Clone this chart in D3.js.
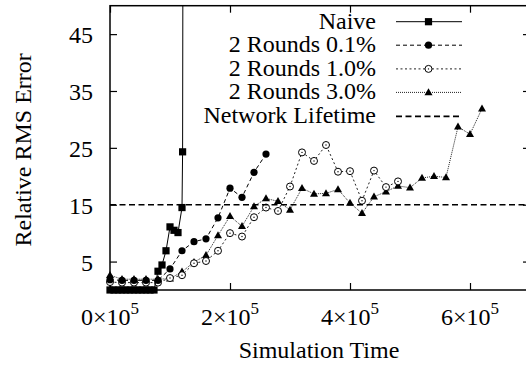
<!DOCTYPE html>
<html><head><meta charset="utf-8">
<script src="https://cdn.jsdelivr.net/npm/d3@7/dist/d3.min.js"></script>
<style>
body{margin:0;background:#fff;font-family:'Liberation Serif',serif;}
text, tspan{font-family:'Liberation Serif',serif !important;}
</style></head>
<body><svg id="c" width="526" height="366" font-family="Liberation Serif" style="font-family:'Liberation Serif'"></svg>
<script>
// ---- data ----
const naiveTimes = [0,6667,13333,20000,26667,33333,40000,46667,53333,60000,66667,73333,80000,86667,93333,100000,106667,113333,120000,121000,122000];
const naiveValues = [0,0,0,0,0,0,0,0,0,0,0,0,3.3,4.4,6.9,11.1,10.5,10.1,14.5,24.3,90];
const roundTimes = [0,20000,40000,60000,80000,100000,120000,140000,160000,180000,200000,220000,240000,260000,280000,300000,320000,340000,360000,380000,400000,420000,440000,460000,480000,500000,520000,540000,560000,580000,600000,620000];
const r01Values = [1.8,1.7,1.7,1.7,1.7,3.7,6.9,8.5,9.0,12.7,17.9,16.3,20.7,23.9];
const r10Values = [1.4,1.3,1.3,1.3,1.3,2.1,2.6,4.7,5.1,6.9,10.0,9.4,12.8,14.5,13.9,18.2,24.2,22.7,25.5,20.8,20.9,15.7,21.0,18.1,19.1];
const r30Values = [2.6,1.9,1.9,1.9,1.9,2.0,3.2,4.9,6.1,9.6,13.0,11.2,14.7,16.1,15.6,14.1,17.9,16.9,17.0,17.7,15.3,13.5,16.4,17.3,18.3,18.0,19.7,20.0,19.8,28.7,27.4,31.9];
const lifetimeValue = 15;
const seriesNames = ["Naive","2 Rounds 0.1%","2 Rounds 1.0%","2 Rounds 3.0%","Network Lifetime"];
const yTicks = [5,15,25,35,45];
const xTicks = [0,200000,400000,600000];
const xTickLabels = ["0\u00d710","2\u00d710","4\u00d710","6\u00d710"];
const xTickExp = "5";
const xTitle = "Simulation Time";
const yTitle = "Relative RMS Error";

// ---- layout ----
const L=110, R=530, T=5.7, B=290;
const x = d3.scaleLinear().domain([0,700000]).range([L,R]);
const y = d3.scaleLinear().domain([0,50]).range([B,T]);
const svg = d3.select("#c");
const FS = 24;
const FF = "'Liberation Serif'";
function txt(sel){ return sel.attr("font-family","Liberation Serif").style("font-family",FF).attr("font-size",FS); }

svg.append("defs").append("clipPath").attr("id","clip")
  .append("rect").attr("x",L).attr("y",T).attr("width",R-L).attr("height",B-T);

// axes ticks (inward)
const gB = svg.append("g").attr("transform",`translate(0,${B})`)
  .call(d3.axisBottom(x).tickValues(xTicks).tickSizeInner(-7).tickSizeOuter(0).tickFormat(""));
const gT = svg.append("g").attr("transform",`translate(0,${T})`)
  .call(d3.axisTop(x).tickValues(xTicks).tickSizeInner(-7).tickSizeOuter(0).tickFormat(""));
const gL = svg.append("g").attr("transform",`translate(${L},0)`)
  .call(d3.axisLeft(y).tickValues(yTicks).tickSizeInner(-7).tickSizeOuter(0).tickFormat(""));
const gR = svg.append("g").attr("transform",`translate(${R},0)`)
  .call(d3.axisRight(y).tickValues(yTicks).tickSizeInner(-7).tickSizeOuter(0).tickFormat(""));
[gB,gT,gL,gR].forEach(g=>{
  g.attr("font-family",null).attr("font-size",null);
  g.select(".domain").remove();
  g.selectAll("text").remove();
  g.selectAll("line").attr("stroke","#000").attr("stroke-width",1.2);
});

// frame
svg.append("rect").attr("x",L).attr("y",T).attr("width",R-L).attr("height",B-T)
  .attr("fill","none").attr("stroke","#000").attr("stroke-width",1.5);

// tick labels
txt(svg.append("g").selectAll("text").data(yTicks).join("text")
  .attr("x",93).attr("y",d=>y(d)+9).attr("text-anchor","end")).text(d=>d);
const xl = txt(svg.append("g").selectAll("text").data(xTicks).join("text")
  .attr("x",d=>x(d)).attr("y",324.5).attr("text-anchor","middle"));
xl.append("tspan").text((d,i)=>xTickLabels[i]);
xl.append("tspan").attr("dy",-11).attr("font-size",17).text(xTickExp);

// titles
txt(svg.append("text").attr("x",(L+R)/2-1).attr("y",358).attr("text-anchor","middle")).text(xTitle);
txt(svg.append("text").attr("transform",`translate(31,${(T+B)/2+2}) rotate(-90)`)
  .attr("text-anchor","middle")).text(yTitle);

// series
const series = [
  {name:seriesNames[0], pts:naiveTimes.map((t,i)=>[t,naiveValues[i]]), dash:null, sym:"square", w:1, col:"#000"},
  {name:seriesNames[1], pts:r01Values.map((v,i)=>[roundTimes[i],v]), dash:"4,3", sym:"circle", w:1, col:"#000"},
  {name:seriesNames[2], pts:r10Values.map((v,i)=>[roundTimes[i],v]), dash:"2,2.5", sym:"ocircle", w:1, col:"#222"},
  {name:seriesNames[3], pts:r30Values.map((v,i)=>[roundTimes[i],v]), dash:"1,1", sym:"triangle", w:1, col:"#222"}
];
const line = d3.line().x(d=>x(d[0])).y(d=>y(d[1]));
const plot = svg.append("g");

function marker(g, sym, cx, cy){
  if(sym==="square"){
    g.append("rect").attr("x",cx-3.6).attr("y",cy-3.6).attr("width",7.2).attr("height",7.2).attr("fill","#000");
  } else if(sym==="circle"){
    g.append("circle").attr("cx",cx).attr("cy",cy).attr("r",3.6).attr("fill","#000");
  } else if(sym==="ocircle"){
    g.append("circle").attr("cx",cx).attr("cy",cy).attr("r",3.5).attr("fill","#fff").attr("stroke","#000").attr("stroke-width",1);
    g.append("circle").attr("cx",cx).attr("cy",cy).attr("r",0.7).attr("fill","#000");
  } else if(sym==="triangle"){
    g.append("path").attr("d",`M${cx},${cy-4.2}L${cx+4},${cy+2.8}L${cx-4},${cy+2.8}Z`).attr("fill","#000");
  }
}

// draw from last series to first so naive is on top
[3,2,1,0].forEach(k=>{
  const s = series[k];
  plot.append("path").attr("d",line(s.pts)).attr("fill","none")
    .attr("stroke",s.col).attr("stroke-width",s.w)
    .attr("stroke-dasharray",s.dash).attr("clip-path","url(#clip)");
  const mg = plot.append("g");
  s.pts.filter(p=>p[1]<=50).forEach(p=>marker(mg,s.sym,x(p[0]),y(p[1])));
});

// network lifetime line
svg.append("line").attr("x1",L).attr("x2",R).attr("y1",y(lifetimeValue)).attr("y2",y(lifetimeValue))
  .attr("stroke","#000").attr("stroke-width",1.6).attr("stroke-dasharray","6,3.5");

// legend
const lg = svg.append("g");
const rowY = [21.7,45.2,68.9,92.4,116.4];
const legendStyles = [
  {dash:null,sym:"square",w:1,col:"#000"},
  {dash:"4,3",sym:"circle",w:1,col:"#000"},
  {dash:"2,2.5",sym:"ocircle",w:1,col:"#222"},
  {dash:"1,1",sym:"triangle",w:1,col:"#222"},
  {dash:"6,3.5",sym:null,w:1.6,col:"#000"}
];
seriesNames.forEach((n,i)=>{
  const st = legendStyles[i];
  txt(lg.append("text").attr("x",376).attr("y",rowY[i]+7).attr("text-anchor","end")).text(n);
  lg.append("line").attr("x1",396).attr("x2",462).attr("y1",rowY[i]).attr("y2",rowY[i])
    .attr("stroke",st.col).attr("stroke-width",st.w).attr("stroke-dasharray",st.dash);
  if(st.sym) marker(lg, st.sym, 428.5, rowY[i]);
});
</script></body></html>
